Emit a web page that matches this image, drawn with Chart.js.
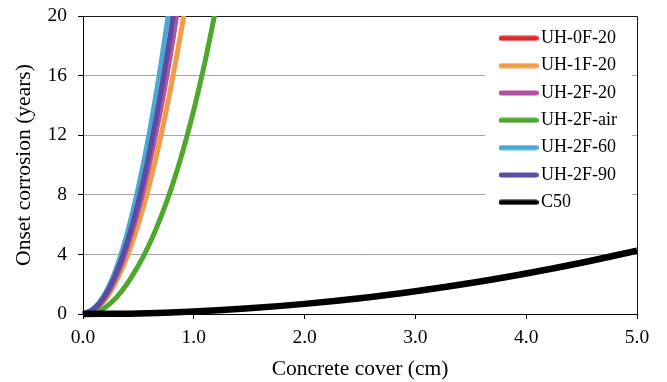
<!DOCTYPE html>
<html><head><meta charset="utf-8">
<script src="https://cdn.jsdelivr.net/npm/chart.js@4.4.1/dist/chart.umd.min.js"></script>
<style>html,body{margin:0;padding:0;background:#fff;}canvas{display:block;}</style>
</head><body>
<canvas id="c" width="667" height="382"></canvas>
<script>
// ---- data ----
const coverUH = [0, 0.1, 0.2, 0.3, 0.4, 0.5, 0.6, 0.7, 0.8, 0.9, 1.0, 1.1, 1.2];
const uh0f20  = [0, 0.33, 1.2, 2.7, 4.75, 7.45, 10.7, 14.6, 19.1, 24.1];
const uh1f20  = [0, 0.25, 0.95, 2.2, 3.9, 6.05, 8.7, 11.85, 15.5, 19.6, 24.2];
const uh2f20  = [0, 0.3, 1.12, 2.5, 4.5, 7.0, 10.1, 13.7, 17.9, 22.7];
const uh2fair = [0, 0.07, 0.44, 1.1, 2.05, 3.25, 4.7, 6.45, 8.5, 10.9, 13.7, 16.9, 20.5];
const uh2f60  = [0, 0.4, 1.4, 3.05, 5.45, 8.5, 12.2, 16.6, 21.6];
const uh2f90  = [0, 0.35, 1.25, 2.75, 4.85, 7.55, 10.85, 14.75, 19.3, 24.4];
const coverC50 = [0, 0.5, 1.0, 1.5, 2.0, 2.5, 3.0, 3.5, 4.0, 4.5, 5.0];
const c50      = [0, 0.04, 0.17, 0.38, 0.68, 1.06, 1.53, 2.08, 2.72, 3.44, 4.25];
const seriesNames = ['UH-0F-20', 'UH-1F-20', 'UH-2F-20', 'UH-2F-air', 'UH-2F-60', 'UH-2F-90', 'C50'];
const xTicks = [0, 1, 2, 3, 4, 5];
const yTicks = [0, 4, 8, 12, 16, 20];

// ---- styles ----
const colors = ['#e2262b', '#f39c45', '#b4539f', '#4da82c', '#4ba8d6', '#5b4ba1', '#000000'];
const widths = [5, 5, 5, 5, 5, 5, 6.5];
const FONT = 'Liberation Serif';

const seriesValues = [uh0f20, uh1f20, uh2f20, uh2fair, uh2f60, uh2f90, c50];
const seriesCovers = [coverUH, coverUH, coverUH, coverUH, coverUH, coverUH, coverC50];

function makeMarker(color) {
  const cv = document.createElement('canvas');
  cv.width = 40; cv.height = 6;
  const g = cv.getContext('2d');
  g.strokeStyle = color; g.lineWidth = 5; g.lineCap = 'round';
  g.beginPath(); g.moveTo(2.5, 3); g.lineTo(37.5, 3); g.stroke();
  return cv;
}
const markers = colors.map(makeMarker);

const datasets = seriesNames.map((name, i) => ({
  label: name,
  data: seriesValues[i].map((v, k) => ({ x: seriesCovers[i][k], y: v })),
  borderColor: colors[i],
  backgroundColor: colors[i],
  borderWidth: widths[i],
  pointRadius: 0,
  fill: false,
  cubicInterpolationMode: 'monotone',
  order: seriesNames.length - i,
  clip: { left: 4, top: 0, right: 0, bottom: 6 }
}));

const frameAndLegendBg = {
  id: 'frameAndLegendBg',
  beforeDraw(chart) {
    const lg = chart.legend;
    if (lg && !lg._patched) {
      const orig = lg.draw;
      lg.draw = function (ca) {
        const ctx = this.ctx;
        const a = chart.chartArea;
        ctx.save();
        ctx.fillStyle = '#ffffff';
        ctx.fillRect(a.right - 152, a.top + 4, 147, 196);
        const pad = this.options.labels.padding;
        ctx.translate((a.right - 132) - (this.left + pad), (a.top + 13.3) - (this.top + pad));
        orig.call(this, ca);
        ctx.restore();
      };
      lg._patched = true;
    }
  },
  beforeDatasetsDraw(chart) {
    const a = chart.chartArea, ctx = chart.ctx;
    ctx.save();
    ctx.strokeStyle = '#1a1a1a';
    ctx.lineWidth = 1;
    ctx.beginPath();
    ctx.moveTo(a.left, a.top + 0.5); ctx.lineTo(a.right + 0.5, a.top + 0.5);
    ctx.lineTo(a.right + 0.5, a.bottom);
    ctx.stroke();
    ctx.restore();
  }
};

Chart.defaults.color = '#000';
Chart.defaults.font.family = FONT;

new Chart(document.getElementById('c'), {
  type: 'line',
  data: { datasets },
  options: {
    responsive: false,
    animation: false,
    devicePixelRatio: 1,
    layout: { padding: { top: 16, right: 30, bottom: 0, left: 0 } },
    plugins: {
      tooltip: { enabled: false },
      legend: {
        position: 'chartArea',
        align: 'start',
        labels: {
          usePointStyle: true,
          pointStyleWidth: 27,
          padding: 9.33,
          color: '#000',
          font: { family: FONT, size: 18 },
          generateLabels(chart) {
            return chart.data.datasets.map((ds, i) => ({
              text: ds.label,
              fillStyle: ds.borderColor,
              strokeStyle: ds.borderColor,
              lineWidth: 0,
              pointStyle: markers[i],
              hidden: false,
              datasetIndex: i,
              fontColor: '#000'
            }));
          }
        }
      }
    },
    scales: {
      x: {
        type: 'linear',
        min: xTicks[0],
        max: xTicks[xTicks.length - 1],
        afterFit(s) { s.height = 68; s.paddingLeft = 0; s.paddingRight = 0; },
        afterBuildTicks(s) { s.ticks = xTicks.map(v => ({ value: v })); },
        ticks: {
          callback: v => Number(v).toFixed(1),
          font: { family: FONT, size: 19.5 },
          color: '#000',
          padding: 7,
          maxRotation: 0
        },
        grid: { drawOnChartArea: false, drawTicks: true, tickLength: 5, tickColor: '#000', color: '#000' },
        border: { display: true, color: '#000', width: 1 },
        title: {
          display: true,
          text: 'Concrete cover (cm)',
          font: { family: FONT, size: 21.5 },
          color: '#000',
          padding: { top: 0, bottom: 0 }
        }
      },
      y: {
        type: 'linear',
        min: yTicks[0],
        max: yTicks[yTicks.length - 1],
        afterFit(s) { s.width = 83; s.paddingTop = 0; s.paddingBottom = 0; },
        afterBuildTicks(s) { s.ticks = yTicks.map(v => ({ value: v })); },
        ticks: {
          font: { family: FONT, size: 19.5 },
          color: '#000',
          padding: 11
        },
        grid: { color: '#a6a6a6', lineWidth: 1, drawTicks: true, tickLength: 5, tickColor: '#000' },
        border: { display: true, color: '#000', width: 1 },
        title: {
          display: true,
          text: 'Onset corrosion (years)',
          font: { family: FONT, size: 21.5 },
          color: '#000',
          padding: { top: 11, bottom: 0 }
        }
      }
    }
  },
  plugins: [frameAndLegendBg]
});
</script>
</body></html>
